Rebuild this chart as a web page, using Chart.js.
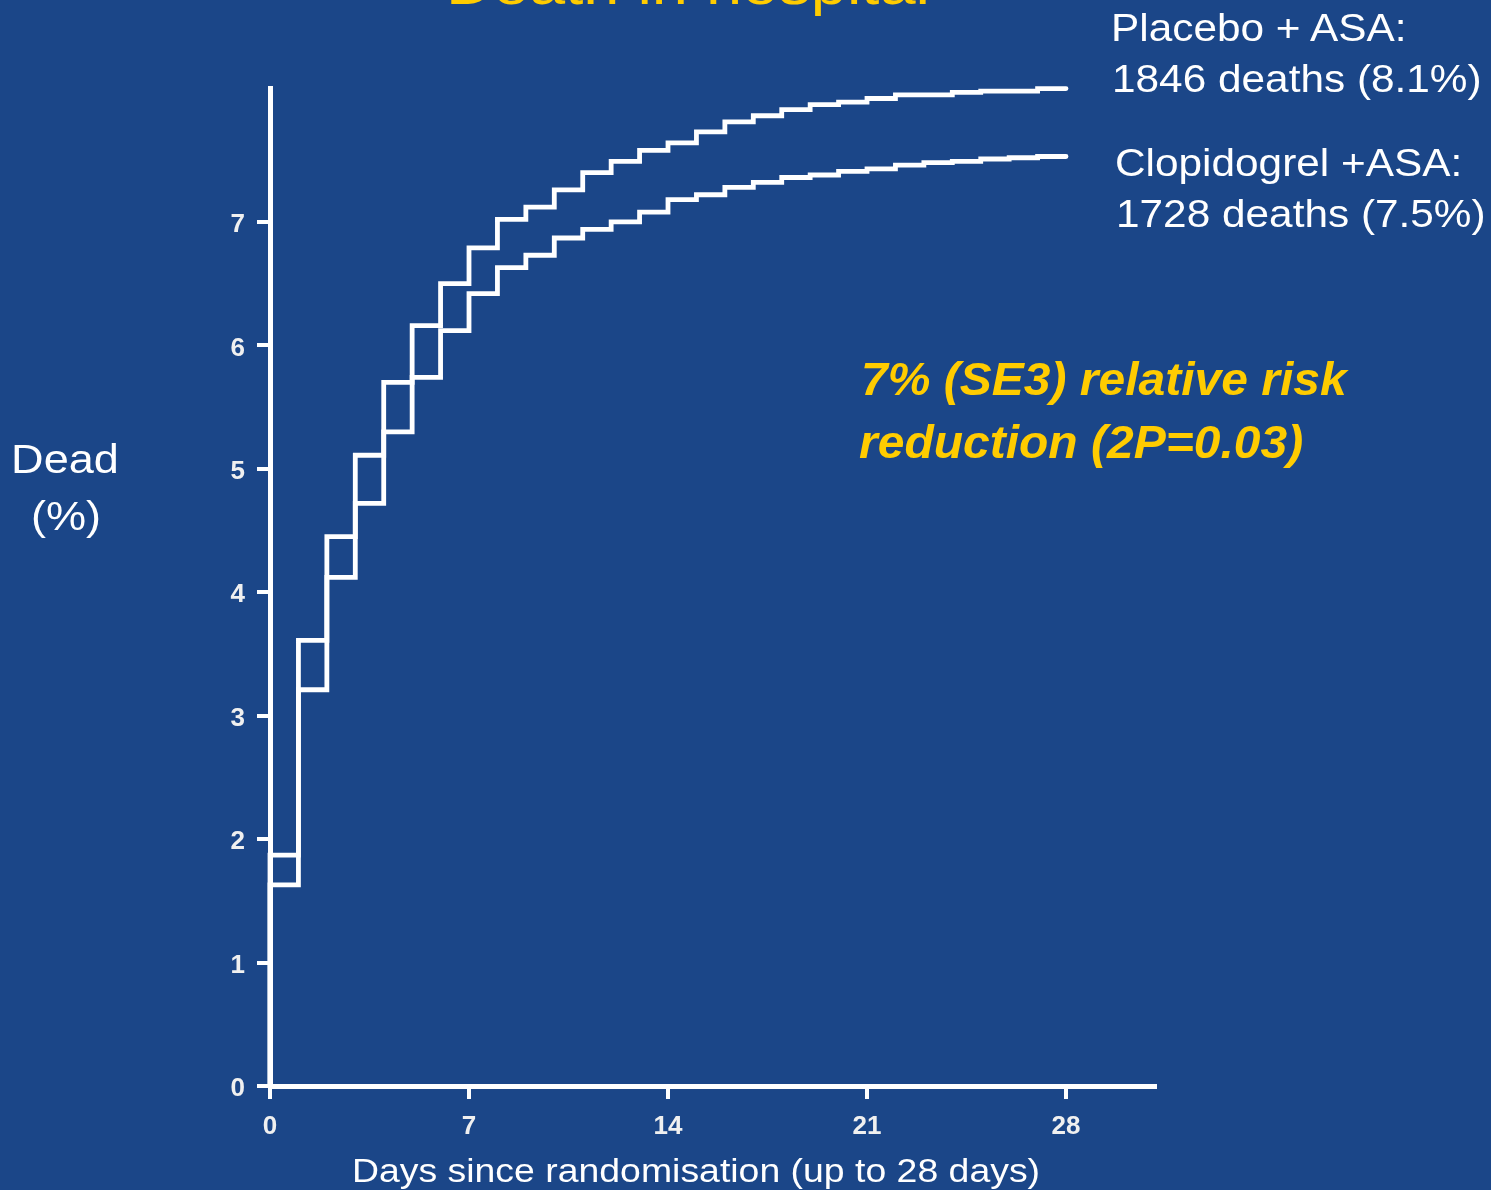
<!DOCTYPE html>
<html>
<head>
<meta charset="utf-8">
<script src="https://cdn.jsdelivr.net/npm/chart.js@4/dist/chart.umd.min.js"></script>
<style>
  html, body { margin: 0; padding: 0; background: #1b4688; overflow: hidden; }
  #wrap { position: relative; width: 1491px; height: 1190px; background: #1b4688; }
  canvas { position: absolute; left: 0; top: 0; }
  .t { position: absolute; white-space: nowrap; font-family: "Liberation Sans", Arial, sans-serif; line-height: 1; }
</style>
</head>
<body>
<div id="wrap">
  <canvas id="c" width="1491" height="1190"></canvas>
</div>
<script>
// ---- data ----
const days = [0,1,2,3,4,5,6,7,8,9,10,11,12,13,14,15,16,17,18,19,20,21,22,23,24,25,26,27,28];
const placeboASA = [1.87,3.61,4.45,5.11,5.70,6.16,6.50,6.79,7.02,7.12,7.26,7.40,7.49,7.58,7.64,7.73,7.81,7.86,7.91,7.95,7.97,8.00,8.03,8.03,8.05,8.06,8.06,8.08,8.08];
const clopidogrelASA = [1.63,3.21,4.12,4.72,5.30,5.74,6.12,6.42,6.63,6.73,6.87,6.94,7.00,7.08,7.18,7.22,7.28,7.32,7.36,7.38,7.41,7.43,7.46,7.48,7.49,7.51,7.52,7.53,7.53];
const startValue = 0;
const xTicks = [0,7,14,21,28];
const yTicks = [0,1,2,3,4,5,6,7];
const xMax = 31.13;
const yMax = 8.085;

const titleText = "Death in hospital";
const xTitle = "Days since randomisation (up to 28 days)";
const yTitleLines = ["Dead", "(%)"];
const legendLines = ["Placebo + ASA:", "1846 deaths (8.1%)", "Clopidogrel +ASA:", "1728 deaths (7.5%)"];
const noteLines = ["7% (SE3) relative risk", "reduction (2P=0.03)"];

// ---- build series points ----
function toPoints(vals) {
  const pts = [{ x: days[0], y: startValue }];
  days.forEach((d, i) => pts.push({ x: d, y: vals[i] }));
  return pts;
}

const tickFont = { family: "'Liberation Sans', Arial, sans-serif", size: 26, weight: 'bold' };

new Chart(document.getElementById('c'), {
  type: 'line',
  data: {
    datasets: [
      { label: 'Placebo + ASA', data: toPoints(placeboASA), borderColor: '#ffffff', borderWidth: 4.8,
        stepped: true, pointRadius: 0, fill: false, clip: false, borderCapStyle: 'round', borderJoinStyle: 'miter' },
      { label: 'Clopidogrel + ASA', data: toPoints(clopidogrelASA), borderColor: '#ffffff', borderWidth: 4.8,
        stepped: true, pointRadius: 0, fill: false, clip: false, borderCapStyle: 'round', borderJoinStyle: 'miter' }
    ]
  },
  options: {
    responsive: false,
    animation: false,
    devicePixelRatio: 1,
    layout: { padding: { top: 88, right: 336, left: 0, bottom: 0 } },
    plugins: { legend: { display: false }, tooltip: { enabled: false }, title: { display: false } },
    scales: {
      x: {
        type: 'linear', min: 0, max: xMax,
        afterFit: s => { s.height = 104; },
        afterBuildTicks: s => { s.ticks = xTicks.map(v => ({ value: v })); },
        ticks: { color: '#f0f0f0', font: tickFont, padding: 12, maxRotation: 0, autoSkip: false },
        grid: { drawOnChartArea: false, drawTicks: true, tickLength: 13, color: '#ffffff', lineWidth: 4 },
        border: { display: true, color: '#ffffff', width: 5 }
      },
      y: {
        type: 'linear', min: 0, max: yMax,
        afterFit: s => { s.width = 270; },
        afterBuildTicks: s => { s.ticks = yTicks.map(v => ({ value: v })); },
        ticks: { color: '#f0f0f0', font: tickFont, padding: 12, labelOffset: 3, autoSkip: false },
        grid: { drawOnChartArea: false, drawTicks: true, tickLength: 13, color: '#ffffff', lineWidth: 4 },
        border: { display: true, color: '#ffffff', width: 5 }
      }
    }
  }
});

// ---- text overlays (real text) ----
const wrap = document.getElementById('wrap');
function addText(str, opts) {
  const d = document.createElement('div');
  d.className = 't';
  d.textContent = str;
  const fs = opts.size;
  d.style.fontSize = fs + 'px';
  d.style.color = opts.color || '#ffffff';
  if (opts.bold) d.style.fontWeight = 'bold';
  if (opts.italic) d.style.fontStyle = 'italic';
  d.style.top = (opts.baseline - 0.8465 * fs) + 'px';
  const sx = opts.sx || 1;
  if (opts.align === 'center') {
    d.style.left = opts.x + 'px';
    d.style.transform = 'translateX(-50%) scaleX(' + sx + ')';
    d.style.transformOrigin = 'center';
  } else {
    d.style.left = opts.x + 'px';
    d.style.transform = 'scaleX(' + sx + ')';
    d.style.transformOrigin = 'left';
  }
  wrap.appendChild(d);
}

addText(titleText, { x: 688, baseline: 4, size: 58, sx: 1.12, align: 'center', color: '#ffcc00' });
addText(yTitleLines[0], { x: 65, baseline: 474, size: 41, sx: 1.1, align: 'center' });
addText(yTitleLines[1], { x: 66, baseline: 531, size: 41, sx: 1.1, align: 'center' });
addText(xTitle, { x: 696, baseline: 1182, size: 34, sx: 1.1, align: 'center' });
addText(legendLines[0], { x: 1111, baseline: 42, size: 38.5, sx: 1.1 });
addText(legendLines[1], { x: 1112, baseline: 93, size: 38.5, sx: 1.1 });
addText(legendLines[2], { x: 1115, baseline: 177, size: 38.5, sx: 1.1 });
addText(legendLines[3], { x: 1116, baseline: 228, size: 38.5, sx: 1.1 });
addText(noteLines[0], { x: 861, baseline: 396, size: 45.5, sx: 1.055, bold: true, italic: true, color: '#ffcc00' });
addText(noteLines[1], { x: 859, baseline: 459, size: 45.5, sx: 1.055, bold: true, italic: true, color: '#ffcc00' });
</script>
</body>
</html>
